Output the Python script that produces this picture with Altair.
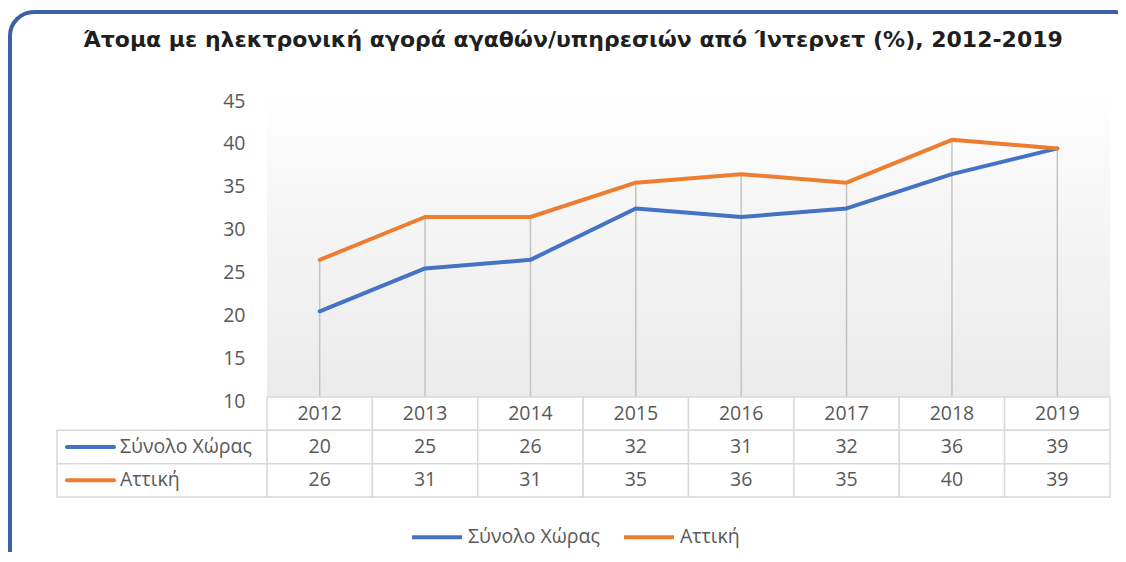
import altair as alt
import pandas as pd

years = ["2012", "2013", "2014", "2015", "2016", "2017", "2018", "2019"]
series_names = ["Σύνολο Χώρας", "Αττική"]
total = [20, 25, 26, 32, 31, 32, 36, 39]
attiki = [26, 31, 31, 35, 36, 35, 40, 39]
y_ticks = [10, 15, 20, 25, 30, 35, 40, 45]
title_text = "Άτομα με ηλεκτρονική αγορά αγαθών/υπηρεσιών από Ίντερνετ (%), 2012-2019"

colors = ["#4472c4", "#ed7d31"]
W, H = 843, 300
FONT = "Open Sans"
GREY = "#595959"
FS = 19.5

long_rows = []
for name, vals in zip(series_names, [total, attiki]):
    for yr, v in zip(years, vals):
        long_rows.append({"year": yr, "series": name, "value": v})
df = pd.DataFrame(long_rows)

table_rows = [{"year": yr, "row": "hdr", "label": yr} for yr in years]
for name, vals in zip(series_names, [total, attiki]):
    for yr, v in zip(years, vals):
        table_rows.append({"year": yr, "row": name, "label": str(v)})
tdf = pd.DataFrame(table_rows)
rdf = pd.DataFrame({"row": series_names})
one = pd.DataFrame({"a": [0]})

xenc = alt.X("year:O", sort=years, axis=None,
             scale=alt.Scale(paddingInner=0, paddingOuter=0))
yscale = alt.Scale(domain=[10, 45], nice=False, zero=False)
color_scale = alt.Scale(domain=series_names, range=colors)
row_scale = alt.Scale(domain=["hdr"] + series_names, range=[300, 400],
                      paddingInner=0, paddingOuter=0)

border = alt.Chart(one).mark_rect(
    fill=None, stroke="#3d5fa8", strokeWidth=4, cornerRadius=24, clip=False
).encode(x=alt.value(-257), x2=alt.value(872), y=alt.value(-85), y2=alt.value(480))

bg = alt.Chart(one).mark_rect(
    color=alt.Gradient(
        gradient="linear",
        stops=[alt.GradientStop(color="#ffffff", offset=0),
               alt.GradientStop(color="#f6f6f7", offset=0.35),
               alt.GradientStop(color="#ebebeb", offset=1)],
        x1=0, x2=0, y1=0, y2=1,
    )
).encode(x=alt.value(0), x2=alt.value(W), y=alt.value(0), y2=alt.value(H))

drops = alt.Chart(df).transform_aggregate(
    top="max(value)", groupby=["year"]
).mark_rule(color="#c3c3c3", strokeWidth=1.5).encode(
    x=xenc,
    y=alt.Y("top:Q", scale=yscale, axis=None),
    y2=alt.datum(10),
)

lines = alt.Chart(df).mark_line(strokeWidth=4, strokeCap="round", strokeJoin="round").encode(
    x=xenc,
    y=alt.Y("value:Q", scale=yscale, title=None,
            axis=alt.Axis(values=y_ticks, labelFontSize=FS, labelColor=GREY, labelFont=FONT,
                          ticks=False, domain=False, grid=False, labelPadding=22, labelOffset=4)),
    color=alt.Color("series:N", scale=color_scale, sort=series_names,
                    legend=alt.Legend(title=None, orient="none", legendX=143, legendY=413,
                                      direction="horizontal", symbolType="stroke",
                                      symbolStrokeWidth=4, symbolSize=2500,
                                      labelFontSize=FS, labelColor=GREY, labelFont=FONT,
                                      columnPadding=16, labelOffset=4)),
    order=alt.Order("series:N"),
)

cells = alt.Chart(tdf).mark_rect(fill="#ffffff", stroke="#d9d9d9", strokeWidth=1.5).encode(
    x=xenc,
    y=alt.Y("row:N", scale=row_scale, axis=None),
)

row_cells = alt.Chart(rdf).mark_rect(fill="#ffffff", stroke="#d9d9d9", strokeWidth=1.5, clip=False).encode(
    x=alt.value(-210), x2=alt.value(0),
    y=alt.Y("row:N", scale=row_scale, axis=None),
)

cell_text = alt.Chart(tdf).mark_text(fontSize=FS, font=FONT, color=GREY, baseline="middle").encode(
    x=xenc,
    y=alt.Y("row:N", scale=row_scale, axis=None),
    text="label:N",
)

row_text = alt.Chart(rdf).mark_text(fontSize=FS, font=FONT, color=GREY, align="left",
                                    baseline="middle", clip=False).encode(
    x=alt.value(-147),
    y=alt.Y("row:N", scale=row_scale, axis=None),
    text="row:N",
)

keys = alt.Chart(rdf).mark_rule(strokeWidth=4, strokeCap="round", clip=False).encode(
    x=alt.value(-200), x2=alt.value(-153),
    y=alt.Y("row:N", scale=row_scale, axis=None),
    color=alt.Color("row:N", scale=color_scale, legend=None),
)

title = alt.Chart(one).mark_text(
    text=title_text, fontSize=22, fontWeight="bold", font="DejaVu Sans",
    color="#1f1f1f", baseline="middle", align="center", clip=False
).encode(x=alt.value(306), y=alt.value(-57))

chart = alt.layer(
    border, bg, drops, lines, cells, row_cells, cell_text, row_text, keys, title
).resolve_scale(y="independent").properties(
    width=W, height=H,
    autosize=alt.AutoSizeParams(type="none"),
    padding={"left": 259, "top": 89, "right": 8, "bottom": 155},
).configure_view(stroke=None)

chart.save("out.html", embed_options={"renderer": "svg", "actions": False})
